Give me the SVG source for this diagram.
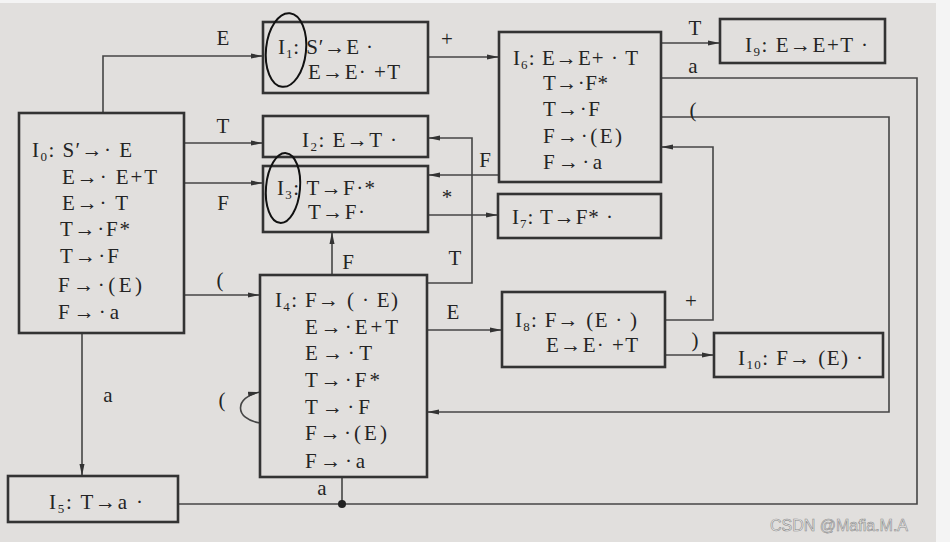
<svg xmlns="http://www.w3.org/2000/svg" width="950" height="542" viewBox="0 0 950 542">
<defs>
<style>
.bg{fill:#e1dfdd}
.box{fill:none;stroke:#333;stroke-width:2.6}
.e{fill:none;stroke:#454545;stroke-width:1.6}
.ring{fill:none;stroke:#111;stroke-width:2}
text{font-family:"Liberation Serif","DejaVu Serif",serif;font-size:21px;fill:#242424}
.lb{text-anchor:middle}
.sub{font-size:13px}
.wm{font-family:"Liberation Sans","DejaVu Sans",sans-serif;font-size:16px;fill:#efefef;stroke:#8c8c8c;stroke-width:0.6}
</style>
<marker id="ar" markerUnits="userSpaceOnUse" markerWidth="13" markerHeight="6" refX="12" refY="3" orient="auto">
<path d="M0,0.5 L12,3 L0,5.5 z" fill="#333"/>
</marker>
</defs>
<rect x="0" y="0" width="950" height="542" fill="#f4f4f4"/>
<rect class="bg" x="0" y="3" width="936" height="539"/>

<g id="connectors">
<polyline class="e" points="103,113 103,56 263,56" marker-end="url(#ar)"/>
<line class="e" x1="184" y1="143" x2="263" y2="143" marker-end="url(#ar)"/>
<line class="e" x1="184" y1="183" x2="263" y2="183" marker-end="url(#ar)"/>
<line class="e" x1="184" y1="295" x2="260" y2="295" marker-end="url(#ar)"/>
<line class="e" x1="82" y1="333" x2="82" y2="476" marker-end="url(#ar)"/>
<path class="e" d="M260,423 C234,419 234,397 260,392" marker-end="url(#ar)"/>
<line class="e" x1="428" y1="57" x2="499" y2="57" marker-end="url(#ar)"/>
<line class="e" x1="661" y1="43" x2="720" y2="43" marker-end="url(#ar)"/>
<polyline class="e" points="661,78 917,78 917,504 178,504"/>
<line class="e" x1="342" y1="477" x2="342" y2="504"/>
<circle cx="342" cy="504" r="4" fill="#222"/>
<polyline class="e" points="661,117 889,117 889,412 427,412" marker-end="url(#ar)"/>
<polyline class="e" points="665,320 713,320 713,147 661,147" marker-end="url(#ar)"/>
<line class="e" x1="499" y1="175" x2="428" y2="175" marker-end="url(#ar)"/>
<line class="e" x1="428" y1="215" x2="498" y2="215" marker-end="url(#ar)"/>
<polyline class="e" points="427,283 472,283 472,138 428,138" marker-end="url(#ar)"/>
<line class="e" x1="332" y1="275" x2="332" y2="232" marker-end="url(#ar)"/>
<line class="e" x1="427" y1="330" x2="502" y2="330" marker-end="url(#ar)"/>
<line class="e" x1="665" y1="355" x2="714" y2="355" marker-end="url(#ar)"/>
<text class="lb" x="223" y="45">E</text>
<text class="lb" x="223" y="133">T</text>
<text class="lb" x="223" y="210">F</text>
<text class="lb" x="220" y="287">(</text>
<text class="lb" x="108" y="402">a</text>
<text class="lb" x="222" y="407">(</text>
<text class="lb" x="348" y="269">F</text>
<text class="lb" x="455" y="265">T</text>
<text class="lb" x="485" y="167">F</text>
<text class="lb" x="447" y="204">*</text>
<text class="lb" x="447" y="46">+</text>
<text class="lb" x="695" y="35">T</text>
<text class="lb" x="693" y="73">a</text>
<text class="lb" x="693" y="117">(</text>
<text class="lb" x="691" y="308">+</text>
<text class="lb" x="695" y="347">)</text>
<text class="lb" x="453" y="319">E</text>
<text class="lb" x="322" y="495">a</text>
</g>

<g id="I0">
<rect class="box" x="19" y="113" width="165" height="220"/>
<text x="32" y="157" textLength="100">I<tspan class="sub" dy="4">0</tspan><tspan dy="-4">: S′→· E</tspan></text>
<text x="62" y="184" textLength="95">E→· E+T</text>
<text x="62" y="210" textLength="66">E→· T</text>
<text x="60" y="236" textLength="70">T→·F*</text>
<text x="60" y="263" textLength="59">T→·F</text>
<text x="58" y="292" textLength="84">F→·(E)</text>
<text x="58" y="319" textLength="61">F→·a</text>
</g>

<g id="I1">
<rect class="box" x="263" y="22" width="165" height="71"/>
<text x="278" y="54" textLength="95">I<tspan class="sub" dy="4">1</tspan><tspan dy="-4">: S′→E ·</tspan></text>
<text x="308" y="79" textLength="92">E→E· +T</text>
<ellipse class="ring" cx="286" cy="50" rx="20" ry="37" transform="rotate(6 286 50)"/>
</g>

<g id="I2">
<rect class="box" x="263" y="116" width="165" height="41"/>
<text x="302" y="147" textLength="95">I<tspan class="sub" dy="4">2</tspan><tspan dy="-4">: E→T ·</tspan></text>
</g>

<g id="I3">
<rect class="box" x="263" y="166" width="165" height="66"/>
<text x="277" y="195" textLength="98">I<tspan class="sub" dy="4">3</tspan><tspan dy="-4">: T→F·*</tspan></text>
<text x="308" y="219" textLength="57">T→F·</text>
<ellipse class="ring" cx="283" cy="188" rx="17" ry="35" transform="rotate(5 283 188)"/>
</g>

<g id="I4">
<rect class="box" x="260" y="275" width="167" height="202"/>
<text x="275" y="307" textLength="123">I<tspan class="sub" dy="4">4</tspan><tspan dy="-4">: F→ ( · E)</tspan></text>
<text x="305" y="334" textLength="93">E→·E+T</text>
<text x="305" y="360" textLength="67">E→·T</text>
<text x="305" y="387" textLength="75">T→·F*</text>
<text x="305" y="414" textLength="65">T→·F</text>
<text x="305" y="440" textLength="82">F→·(E)</text>
<text x="305" y="468" textLength="60">F→·a</text>
</g>

<g id="I5">
<rect class="box" x="8" y="476" width="170" height="46"/>
<text x="49" y="509" textLength="94">I<tspan class="sub" dy="4">5</tspan><tspan dy="-4">: T→a ·</tspan></text>
</g>

<g id="I6">
<rect class="box" x="499" y="32" width="162" height="150"/>
<text x="513" y="65" textLength="125">I<tspan class="sub" dy="4">6</tspan><tspan dy="-4">: E→E+ · T</tspan></text>
<text x="543" y="90" textLength="65">T→·F*</text>
<text x="543" y="116" textLength="57">T→·F</text>
<text x="543" y="143" textLength="79">F→·(E)</text>
<text x="543" y="169" textLength="59">F→·a</text>
</g>

<g id="I7">
<rect class="box" x="498" y="194" width="163" height="44"/>
<text x="512" y="224" textLength="101">I<tspan class="sub" dy="4">7</tspan><tspan dy="-4">: T→F* ·</tspan></text>
</g>

<g id="I8">
<rect class="box" x="502" y="292" width="163" height="75"/>
<text x="515" y="327" textLength="122">I<tspan class="sub" dy="4">8</tspan><tspan dy="-4">: F→ (E · )</tspan></text>
<text x="546" y="352" textLength="92">E→E· +T</text>
</g>

<g id="I9">
<rect class="box" x="720" y="19" width="165" height="44"/>
<text x="745" y="52" textLength="123">I<tspan class="sub" dy="4">9</tspan><tspan dy="-4">: E→E+T ·</tspan></text>
</g>

<g id="I10">
<rect class="box" x="714" y="333" width="169" height="44"/>
<text x="738" y="365" textLength="125">I<tspan class="sub" dy="4">10</tspan><tspan dy="-4">: F→ (E) ·</tspan></text>
</g>

<text class="wm" x="770" y="531">CSDN @Mafia.M.A</text>
</svg>
